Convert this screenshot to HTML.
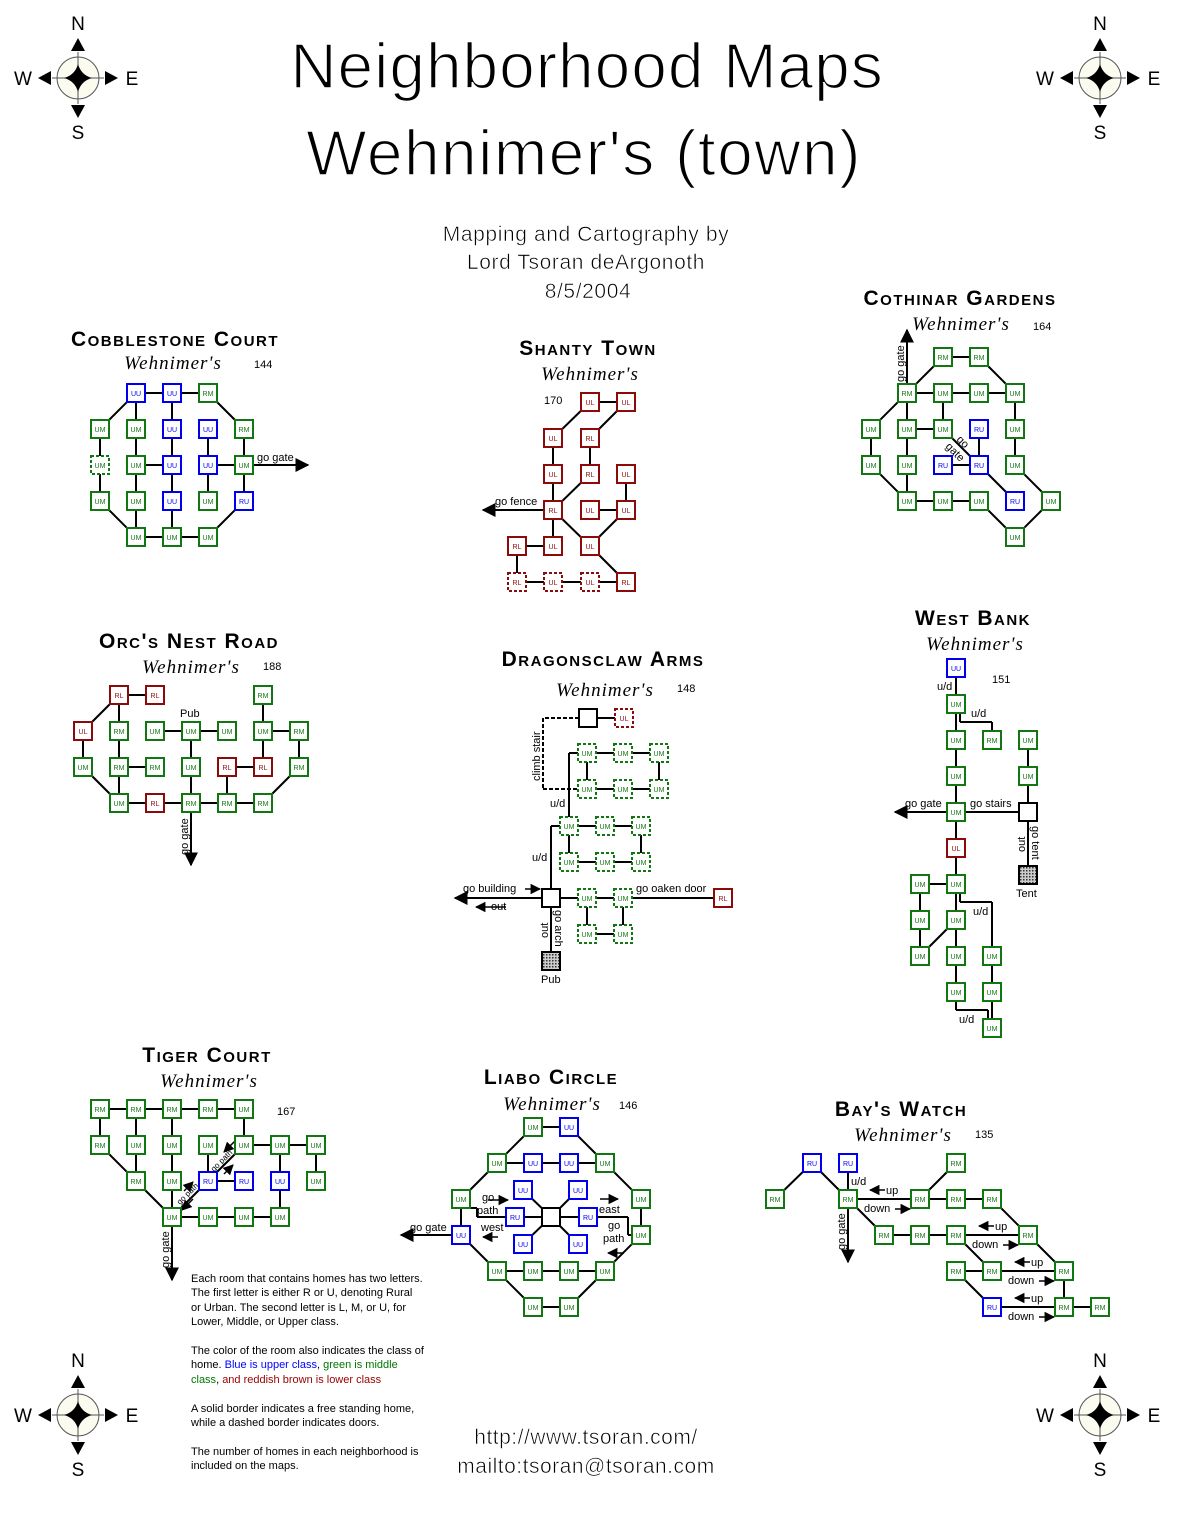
<!DOCTYPE html>
<html><head><meta charset="utf-8">
<style>
html,body{margin:0;padding:0;background:#fff;}
svg{display:block;font-family:"Liberation Sans",sans-serif;}
.hd{font-family:"Liberation Sans",sans-serif;font-weight:bold;font-variant:small-caps;font-size:21px;letter-spacing:1.5px;text-anchor:middle;}
.wh{font-family:"Liberation Serif",serif;font-style:italic;font-size:19px;letter-spacing:1px;text-anchor:middle;}
.lb{font-size:11px;}
.num{font-size:11px;}
.thin{stroke:#fff;stroke-width:1.6px;}
.thin2{stroke:#fff;stroke-width:0.6px;}
</style></head>
<body>
<svg id="map" width="1179" height="1530" viewBox="0 0 1179 1530" xmlns="http://www.w3.org/2000/svg">
<defs>
<marker id="ah" viewBox="0 0 10 10" refX="9" refY="5" markerWidth="7" markerHeight="7" orient="auto-start-reverse"><path d="M0,0L10,5L0,10z" fill="#000"/></marker>
<pattern id="hatch" width="3" height="3" patternUnits="userSpaceOnUse"><rect width="3" height="3" fill="#ccc"/><rect width="1.5" height="1.5" fill="#333"/></pattern>
</defs>
<g>
<text class="thin" x="587" y="88" text-anchor="middle" font-size="64" letter-spacing="1">Neighborhood Maps</text>
<text class="thin" x="584" y="175" text-anchor="middle" font-size="64" letter-spacing="1.5">Wehnimer's (town)</text>
<text class="thin2" x="586" y="241" text-anchor="middle" font-size="21" letter-spacing="0.6">Mapping and Cartography by</text>
<text class="thin2" x="586" y="269" text-anchor="middle" font-size="21" letter-spacing="0.6">Lord Tsoran deArgonoth</text>
<text class="thin2" x="588" y="298" text-anchor="middle" font-size="21" letter-spacing="0.6">8/5/2004</text>
</g>
<g id="edges"></g>
<g id="rooms"></g>
<g id="labels" font-size="11">
<text class="hd" x="175" y="346">Cobblestone Court</text>
<text class="wh" x="173" y="369">Wehnimer's</text>
<text class="num" x="254" y="368">144</text>
<text x="257" y="461">go gate</text>

<text class="hd" x="588" y="355">Shanty Town</text>
<text class="wh" x="590" y="380">Wehnimer's</text>
<text class="num" x="544" y="404">170</text>
<text x="495" y="505">go fence</text>

<text class="hd" x="960" y="305">Cothinar Gardens</text>
<text class="wh" x="961" y="330">Wehnimer's</text>
<text class="num" x="1033" y="330">164</text>
<text x="0" y="0" transform="translate(904,382) rotate(-90)">go gate</text>
<text x="0" y="0" transform="translate(956,440) rotate(45)">go</text>
<text x="0" y="0" transform="translate(945,447) rotate(45)">gate</text>

<text class="hd" x="189" y="648">Orc's Nest Road</text>
<text class="wh" x="191" y="673">Wehnimer's</text>
<text class="num" x="263" y="670">188</text>
<text x="180" y="717">Pub</text>
<text x="0" y="0" transform="translate(188,855) rotate(-90)">go gate</text>

<text class="hd" x="603" y="666">Dragonsclaw Arms</text>
<text class="wh" x="605" y="696">Wehnimer's</text>
<text class="num" x="677" y="692">148</text>
<text x="0" y="0" transform="translate(540,781) rotate(-90)">climb stair</text>
<text x="550" y="807">u/d</text>
<text x="532" y="861">u/d</text>
<text x="463" y="892">go building</text>
<text x="491" y="910">out</text>
<text x="636" y="892">go oaken door</text>
<text x="0" y="0" transform="translate(555,910) rotate(90)">go arch</text>
<text x="0" y="0" transform="translate(548,938) rotate(-90)">out</text>
<text x="541" y="983">Pub</text>

<text class="hd" x="973" y="625">West Bank</text>
<text class="wh" x="975" y="650">Wehnimer's</text>
<text class="num" x="992" y="683">151</text>
<text x="937" y="690">u/d</text>
<text x="971" y="717">u/d</text>
<text x="905" y="807">go gate</text>
<text x="970" y="807">go stairs</text>
<text x="0" y="0" transform="translate(1032,826) rotate(90)">go tent</text>
<text x="0" y="0" transform="translate(1025,852) rotate(-90)">out</text>
<text x="1016" y="897">Tent</text>
<text x="973" y="915">u/d</text>
<text x="959" y="1023">u/d</text>

<text class="hd" x="207" y="1062">Tiger Court</text>
<text class="wh" x="209" y="1087">Wehnimer's</text>
<text class="num" x="277" y="1115">167</text>
<text x="0" y="0" transform="translate(169,1268) rotate(-90)">go gate</text>
<text x="0" y="0" transform="translate(180,1205) rotate(-45)" font-size="8">go path</text>
<text x="0" y="0" transform="translate(214,1172) rotate(-45)" font-size="8">go path</text>

<text class="hd" x="551" y="1084">Liabo Circle</text>
<text class="wh" x="552" y="1110">Wehnimer's</text>
<text class="num" x="619" y="1109">146</text>
<text x="410" y="1231">go gate</text>
<text x="482" y="1201">go</text>
<text x="477" y="1214">path</text>
<text x="481" y="1231">west</text>
<text x="599" y="1213">east</text>
<text x="608" y="1229">go</text>
<text x="603" y="1242">path</text>

<text class="hd" x="901" y="1116">Bay's Watch</text>
<text class="wh" x="903" y="1141">Wehnimer's</text>
<text class="num" x="975" y="1138">135</text>
<text x="851" y="1185">u/d</text>
<text x="886" y="1194">up</text>
<text x="864" y="1212">down</text>
<text x="995" y="1230">up</text>
<text x="972" y="1248">down</text>
<text x="1031" y="1266">up</text>
<text x="1008" y="1284">down</text>
<text x="1031" y="1302">up</text>
<text x="1008" y="1320">down</text>
<text x="0" y="0" transform="translate(845,1250) rotate(-90)">go gate</text>
</g>
<g font-size="11">
<text x="191" y="1282">Each room that contains homes has two letters.</text>
<text x="191" y="1296">The first letter is either R or U, denoting Rural</text>
<text x="191" y="1311">or Urban.  The second letter is L, M, or U, for</text>
<text x="191" y="1325">Lower, Middle, or Upper class.</text>
<text x="191" y="1354">The color of the room also indicates the class of</text>
<text x="191" y="1368">home.  <tspan fill="#0000ff">Blue is upper class</tspan>, <tspan fill="#007700">green is middle</tspan></text>
<text x="191" y="1383"><tspan fill="#007700">class</tspan>, <tspan fill="#990000">and reddish brown is lower class</tspan></text>
<text x="191" y="1412">A solid border indicates a free standing home,</text>
<text x="191" y="1426">while a dashed border indicates doors.</text>
<text x="191" y="1455">The number of homes in each neighborhood is</text>
<text x="191" y="1469">included on the maps.</text>
</g>
<text class="thin2" x="586" y="1444" text-anchor="middle" font-size="21" letter-spacing="0.5">http://www.tsoran.com/</text>
<text class="thin2" x="586" y="1473" text-anchor="middle" font-size="21" letter-spacing="0.5">mailto:tsoran@tsoran.com</text>
<g id="compasses"></g>
</svg>
<script>
const NS='http://www.w3.org/2000/svg';
const COL={g:'#117711',b:'#0000ee',r:'#8b0a0a',k:'#000'};
// rooms: [x, y, label, colorKey, dashed]
const cobbleRooms=[[136,393,'UU','b'],[172,393,'UU','b'],[208,393,'RM','g'],[100,429,'UM','g'],[136,429,'UM','g'],[172,429,'UU','b'],[208,429,'UU','b'],[244,429,'RM','g'],[100,465,'UM','g',1],[136,465,'UM','g'],[172,465,'UU','b'],[208,465,'UU','b'],[244,465,'UM','g'],[100,501,'UM','g'],[136,501,'UM','g'],[172,501,'UU','b'],[208,501,'UM','g'],[244,501,'RU','b'],[136,537,'UM','g'],[172,537,'UM','g'],[208,537,'UM','g']];
const cobbleEdges=[[136,393,172,393],[172,393,208,393],[136,393,100,429],[208,393,244,429],[100,429,100,501],[136,393,136,537],[172,393,172,537],[208,429,208,501],[244,429,244,501],[136,465,172,465],[208,465,244,465],[100,501,136,537],[244,501,208,537],[136,537,208,537]];
const shantyRooms=[[590,402,'UL','r'],[626,402,'UL','r'],[553,438,'UL','r'],[590,438,'RL','r'],[553,474,'UL','r'],[590,474,'RL','r'],[626,474,'UL','r'],[553,510,'RL','r'],[590,510,'UL','r'],[626,510,'UL','r'],[517,546,'RL','r'],[553,546,'UL','r'],[590,546,'UL','r'],[517,582,'RL','r',1],[553,582,'UL','r',1],[590,582,'UL','r',1],[626,582,'RL','r']];
const shantyEdges=[[590,402,626,402],[590,402,553,438],[626,402,590,438],[553,438,553,510],[590,438,590,474],[590,474,553,510],[626,474,626,510],[590,510,626,510],[553,510,553,546],[553,510,590,546],[626,510,590,546],[517,546,553,546],[517,546,517,582],[590,546,626,582],[517,582,626,582]];
const cothRooms=[[943,357,'RM','g'],[979,357,'RM','g'],[907,393,'RM','g'],[943,393,'UM','g'],[979,393,'UM','g'],[1015,393,'UM','g'],[871,429,'UM','g'],[907,429,'UM','g'],[943,429,'UM','g'],[979,429,'RU','b'],[1015,429,'UM','g'],[871,465,'UM','g'],[907,465,'UM','g'],[943,465,'RU','b'],[979,465,'RU','b'],[1015,465,'UM','g'],[907,501,'UM','g'],[943,501,'UM','g'],[979,501,'UM','g'],[1015,501,'RU','b'],[1051,501,'UM','g'],[1015,537,'UM','g']];
const cothEdges=[[943,357,979,357],[907,393,943,357],[979,357,1015,393],[907,393,1015,393],[907,393,871,429],[907,393,907,501],[943,393,943,429],[1015,393,1015,465],[907,429,943,429],[871,429,871,465],[943,429,979,465],[979,429,979,465],[943,465,979,465],[871,465,907,501],[907,501,979,501],[979,465,1015,501],[1015,465,1051,501],[979,501,1015,537],[1051,501,1015,537]];
const orcRooms=[[119,695,'RL','r'],[155,695,'RL','r'],[263,695,'RM','g'],[83,731,'UL','r'],[119,731,'RM','g'],[155,731,'UM','g'],[191,731,'UM','g'],[227,731,'UM','g'],[263,731,'UM','g'],[299,731,'RM','g'],[83,767,'UM','g'],[119,767,'RM','g'],[155,767,'RM','g'],[191,767,'UM','g'],[227,767,'RL','r'],[263,767,'RL','r'],[299,767,'RM','g'],[119,803,'UM','g'],[155,803,'RL','r'],[191,803,'RM','g'],[227,803,'RM','g'],[263,803,'RM','g']];
const orcEdges=[[119,695,155,695],[119,695,83,731],[119,695,119,803],[155,731,227,731],[263,695,263,767],[263,731,299,731],[83,731,83,767],[191,731,191,803],[299,731,299,767],[119,767,155,767],[227,767,263,767],[83,767,119,803],[227,767,227,803],[299,767,263,803],[119,803,263,803]];
const dragRooms=[[588,718,'','k'],[624,718,'UL','r',1],[587,753,'UM','g',1],[623,753,'UM','g',1],[659,753,'UM','g',1],[587,789,'UM','g',1],[623,789,'UM','g',1],[659,789,'UM','g',1],[569,826,'UM','g',1],[605,826,'UM','g',1],[641,826,'UM','g',1],[569,862,'UM','g',1],[605,862,'UM','g',1],[641,862,'UM','g',1],[551,898,'','k'],[587,898,'UM','g',1],[623,898,'UM','g',1],[723,898,'RL','r'],[587,934,'UM','g',1],[623,934,'UM','g',1],[551,961,'HATCH','k']];
const dragEdges=[[588,718,624,718],[587,753,659,753],[587,753,587,789],[659,753,659,789],[587,789,659,789],[569,826,641,826],[569,826,569,862],[641,826,641,862],[569,862,641,862],[551,898,723,898],[587,898,587,934],[623,898,623,934],[587,934,623,934],[551,898,551,961],[578,753,569,753],[569,753,569,817],[560,826,551,826],[551,826,551,889]];
const wbRooms=[[956,668,'UU','b'],[956,704,'UM','g'],[956,740,'UM','g'],[992,740,'RM','g'],[1028,740,'UM','g'],[956,776,'UM','g'],[1028,776,'UM','g'],[956,812,'UM','g'],[1028,812,'','k'],[956,848,'UL','r'],[1028,875,'HATCH','k'],[920,884,'UM','g'],[956,884,'UM','g'],[920,920,'UM','g'],[956,920,'UM','g'],[920,956,'UM','g'],[956,956,'UM','g'],[992,956,'UM','g'],[956,992,'UM','g'],[992,992,'UM','g'],[992,1028,'UM','g']];
const wbEdges=[[956,668,956,992],[960,713,960,722],[960,722,992,722],[992,722,992,731],[1028,740,1028,875],[956,812,1028,812],[920,884,956,884],[920,884,920,956],[956,920,920,956],[960,893,960,902],[960,902,992,902],[992,902,992,1028],[956,992,956,1010],[956,1010,988,1010],[988,1010,988,1019]];
const tigerRooms=[[100,1109,'RM','g'],[136,1109,'RM','g'],[172,1109,'RM','g'],[208,1109,'RM','g'],[244,1109,'UM','g'],[100,1145,'RM','g'],[136,1145,'UM','g'],[172,1145,'UM','g'],[208,1145,'UM','g'],[244,1145,'UM','g'],[280,1145,'UM','g'],[316,1145,'UM','g'],[136,1181,'RM','g'],[172,1181,'UM','g'],[208,1181,'RU','b'],[244,1181,'RU','b'],[280,1181,'UU','b'],[316,1181,'UM','g'],[172,1217,'UM','g'],[208,1217,'UM','g'],[244,1217,'UM','g'],[280,1217,'UM','g']];
const tigerEdges=[[100,1109,244,1109],[100,1109,100,1145],[136,1109,136,1181],[172,1109,172,1217],[244,1109,244,1145],[244,1145,316,1145],[100,1145,136,1181],[208,1145,208,1181],[280,1145,280,1217],[316,1145,316,1181],[208,1181,244,1181],[136,1181,172,1217],[172,1217,208,1181],[208,1181,244,1145],[172,1217,280,1217]];
const liaboRooms=[[533,1127,'UM','g'],[569,1127,'UU','b'],[497,1163,'UM','g'],[533,1163,'UU','b'],[569,1163,'UU','b'],[605,1163,'UM','g'],[461,1199,'UM','g'],[641,1199,'UM','g'],[523,1190,'UU','b'],[578,1190,'UU','b'],[515,1217,'RU','b'],[551,1217,'','k'],[588,1217,'RU','b'],[523,1244,'UU','b'],[578,1244,'UU','b'],[461,1235,'UU','b'],[641,1235,'UM','g'],[497,1271,'UM','g'],[533,1271,'UM','g'],[569,1271,'UM','g'],[605,1271,'UM','g'],[533,1307,'UM','g'],[569,1307,'UM','g']];
const liaboEdges=[[533,1127,569,1127],[533,1127,497,1163],[569,1127,605,1163],[497,1163,605,1163],[497,1163,461,1199],[605,1163,641,1199],[461,1199,461,1235],[641,1199,641,1235],[461,1235,497,1271],[641,1235,605,1271],[497,1271,605,1271],[497,1271,533,1307],[605,1271,569,1307],[533,1307,569,1307],[515,1217,588,1217],[523,1190,551,1217],[578,1190,551,1217],[523,1244,551,1217],[578,1244,551,1217],[470,1208,477,1208],[477,1208,477,1217],[477,1217,506,1217],[597,1217,628,1217],[628,1217,628,1235],[628,1235,632,1235]];
const bayRooms=[[812,1163,'RU','b'],[848,1163,'RU','b'],[775,1199,'RM','g'],[848,1199,'RM','g'],[956,1163,'RM','g'],[920,1199,'RM','g'],[956,1199,'RM','g'],[992,1199,'RM','g'],[884,1235,'RM','g'],[920,1235,'RM','g'],[956,1235,'RM','g'],[1028,1235,'RM','g'],[956,1271,'RM','g'],[992,1271,'RM','g'],[1064,1271,'RM','g'],[992,1307,'RU','b'],[1064,1307,'RM','g'],[1100,1307,'RM','g']];
const bayEdges=[[775,1199,812,1163],[812,1163,848,1199],[848,1163,848,1199],[848,1199,992,1199],[920,1199,956,1163],[992,1199,1028,1235],[848,1199,884,1235],[884,1235,1028,1235],[956,1235,992,1271],[1028,1235,1064,1271],[956,1271,1064,1271],[956,1271,992,1307],[1064,1271,1064,1307],[992,1307,1100,1307]];
const exitArrows=[[244,465,308,465],[553,510,483,510],[907,393,907,330],[191,803,191,865],[551,898,455,898],[956,812,895,812],[172,1217,172,1280],[461,1235,401,1235],[848,1199,848,1262]];
const dashedEdges=[[579,718,543,718],[543,718,543,789],[543,789,578,789]];
const smallArrows=[[525,889,540,889],[506,907,476,907],[488,1200,508,1200],[498,1237,483,1237],[600,1199,618,1199],[624,1253,608,1253],[885,1190,870,1190],[895,1209,910,1209],[994,1226,979,1226],[1003,1245,1018,1245],[1030,1262,1015,1262],[1039,1281,1054,1281],[1030,1298,1015,1298],[1039,1317,1054,1317],[235,1141,224,1152],[184,1191,193,1182],[224,1174,233,1165],[193,1199,182,1210]];

const eg=document.getElementById('edges'), rg=document.getElementById('rooms');
function line(p,dash,marker,w){
  const l=document.createElementNS(NS,'line');
  l.setAttribute('x1',p[0]);l.setAttribute('y1',p[1]);l.setAttribute('x2',p[2]);l.setAttribute('y2',p[3]);
  l.setAttribute('stroke','#000');l.setAttribute('stroke-width',w||2);
  if(dash)l.setAttribute('stroke-dasharray','4,2');
  if(marker)l.setAttribute('marker-end','url(#ah)');
  
  
  eg.appendChild(l);
}
function room(r){
  const [x,y,lab,c,d]=r;
  const g=document.createElementNS(NS,'g');
  
  
  const s=document.createElementNS(NS,'rect');
  s.setAttribute('x',x-9);s.setAttribute('y',y-9);s.setAttribute('width',18);s.setAttribute('height',18);
  s.setAttribute('fill',lab==='HATCH'?'url(#hatch)':'#fff');
  s.setAttribute('stroke',COL[c]);s.setAttribute('stroke-width',2);
  if(d)s.setAttribute('stroke-dasharray','3,2');
  g.appendChild(s);
  if(lab&&lab!=='HATCH'){
    const t=document.createElementNS(NS,'text');
    t.setAttribute('x',x);t.setAttribute('y',y+3);t.setAttribute('text-anchor','middle');
    t.setAttribute('font-size','7');t.setAttribute('fill',COL[c]);
    t.textContent=lab;g.appendChild(t);
  }
  rg.appendChild(g);
}
[cobbleEdges,shantyEdges,cothEdges,orcEdges,dragEdges,wbEdges,tigerEdges,liaboEdges,bayEdges].forEach(a=>a.forEach(e=>line(e)));
dashedEdges.forEach(e=>line(e,true));
exitArrows.forEach(e=>line(e,false,true));
smallArrows.forEach(e=>line(e,false,true,1.5));
[cobbleRooms,shantyRooms,cothRooms,orcRooms,dragRooms,wbRooms,tigerRooms,liaboRooms,bayRooms].forEach(a=>a.forEach(room));

const compassCenters=[[78,78],[1100,78],[78,1415],[1100,1415]];
const cg=document.getElementById('compasses');
compassCenters.forEach(([cx,cy])=>{
  const g=document.createElementNS(NS,'g');
  
  
  g.innerHTML=
   `<circle cx="${cx}" cy="${cy}" r="21" fill="#fbfbef" stroke="#555" stroke-width="1"/>`+
   `<line x1="${cx-26}" y1="${cy}" x2="${cx+26}" y2="${cy}" stroke="#555"/><line x1="${cx}" y1="${cy-26}" x2="${cx}" y2="${cy+26}" stroke="#555"/>`+
   `<path d="M${cx},${cy-14} Q${cx+3},${cy-3} ${cx+14},${cy} Q${cx+3},${cy+3} ${cx},${cy+14} Q${cx-3},${cy+3} ${cx-14},${cy} Q${cx-3},${cy-3} ${cx},${cy-14}Z" fill="#000"/>`+
   `<path d="M${cx},${cy-40} l-7,13 h14z M${cx},${cy+40} l-7,-13 h14z M${cx-40},${cy} l13,-7 v14z M${cx+40},${cy} l-13,-7 v14z" fill="#000"/>`+
   `<text x="${cx}" y="${cy-48}" text-anchor="middle" font-size="19">N</text>`+
   `<text x="${cx}" y="${cy+61}" text-anchor="middle" font-size="19">S</text>`+
   `<text x="${cx-55}" y="${cy+7}" text-anchor="middle" font-size="19">W</text>`+
   `<text x="${cx+54}" y="${cy+7}" text-anchor="middle" font-size="19">E</text>`;
  cg.appendChild(g);
});
</script>
</body></html>
